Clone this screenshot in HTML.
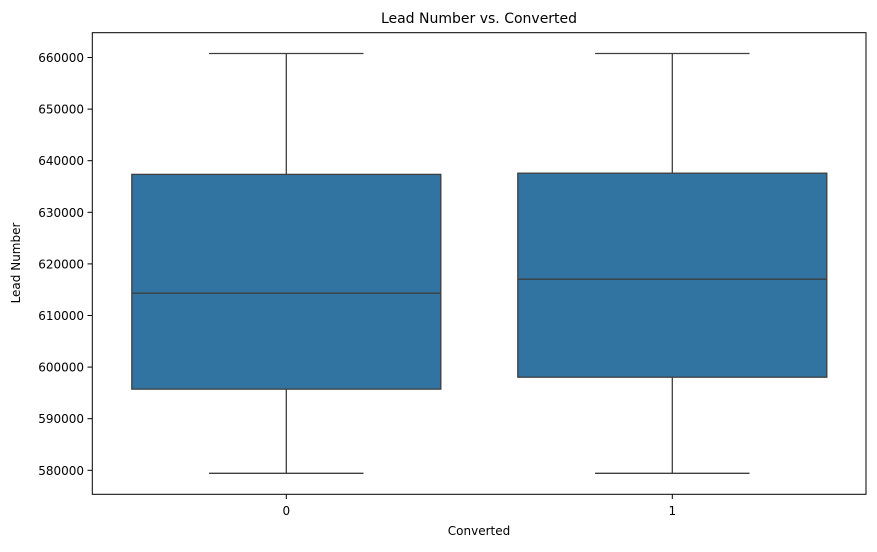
<!DOCTYPE html>
<html><head><meta charset="utf-8"><style>
body{margin:0;background:#fff;}
svg text{font-family:"DejaVu Sans","Liberation Sans",sans-serif;fill:#000;}
</style></head><body>
<svg width="877" height="547">
<rect x="0" y="0" width="877" height="547" fill="#fff"/>
<g id="plot"></g>
<rect x="92.3" y="32.7" width="773.7" height="461.6" fill="none" stroke="#000" stroke-width="1"/>
<text x="479" y="23" text-anchor="middle" font-size="14">Lead Number vs. Converted</text>
<text x="479" y="535" text-anchor="middle" font-size="12">Converted</text>
<text transform="translate(20,263) rotate(-90)" text-anchor="middle" font-size="12">Lead Number</text>
</svg>
<script>
const categories=["0","1"];
const whiskerLow=[579420,579420];
const q1=[595730,598040];
const medians=[614320,617035];
const q3=[637350,637580];
const whiskerHigh=[660780,660780];
const yTicks=[580000,590000,600000,610000,620000,630000,640000,650000,660000];
const NS="http://www.w3.org/2000/svg";
const g=document.getElementById('plot');
const svg=g.parentNode;
function y(v){return 470.3-(v-580000)*51.6/10000;}
function x(i){return 286.3+i*386;}
const bw=309;
function mk(t,a){const e=document.createElementNS(NS,t);for(const k in a)e.setAttribute(k,a[k]);return e;}
yTicks.forEach(t=>{
  const l=mk('line',{x1:87.5,x2:92.3,y1:y(t),y2:y(t),stroke:'#000'});
  
  
  svg.appendChild(l);
  const tx=mk('text',{x:84,y:y(t)+4.5,'text-anchor':'end','font-size':'12'});
  tx.textContent=t;
  
  
  svg.appendChild(tx);
});
categories.forEach((c,i)=>{
  const cx=x(i);
  const l=mk('line',{x1:cx,x2:cx,y1:494.3,y2:499,stroke:'#000'});
  
  
  svg.appendChild(l);
  const tx=mk('text',{x:cx,y:515,'text-anchor':'middle','font-size':'12'});
  tx.textContent=c;
  
  
  svg.appendChild(tx);
  const st={stroke:'#3f3f3f','stroke-width':1.3};
  const w1=mk('line',Object.assign({x1:cx,x2:cx,y1:y(whiskerHigh[i]),y2:y(q3[i])},st));
  
  
  g.appendChild(w1);
  const w2=mk('line',Object.assign({x1:cx,x2:cx,y1:y(q1[i]),y2:y(whiskerLow[i])},st));
  
  
  g.appendChild(w2);
  const c1=mk('line',Object.assign({x1:cx-bw/4,x2:cx+bw/4,y1:y(whiskerHigh[i]),y2:y(whiskerHigh[i])},st));
  
  
  g.appendChild(c1);
  const c2=mk('line',Object.assign({x1:cx-bw/4,x2:cx+bw/4,y1:y(whiskerLow[i]),y2:y(whiskerLow[i])},st));
  
  
  g.appendChild(c2);
  const b=mk('rect',Object.assign({x:cx-bw/2,y:y(q3[i]),width:bw,height:y(q1[i])-y(q3[i]),fill:'#3274a1'},st));
  
  
  g.appendChild(b);
  const m=mk('line',Object.assign({x1:cx-bw/2,x2:cx+bw/2,y1:y(medians[i]),y2:y(medians[i])},st));
  
  
  g.appendChild(m);
});
</script>
</body></html>
